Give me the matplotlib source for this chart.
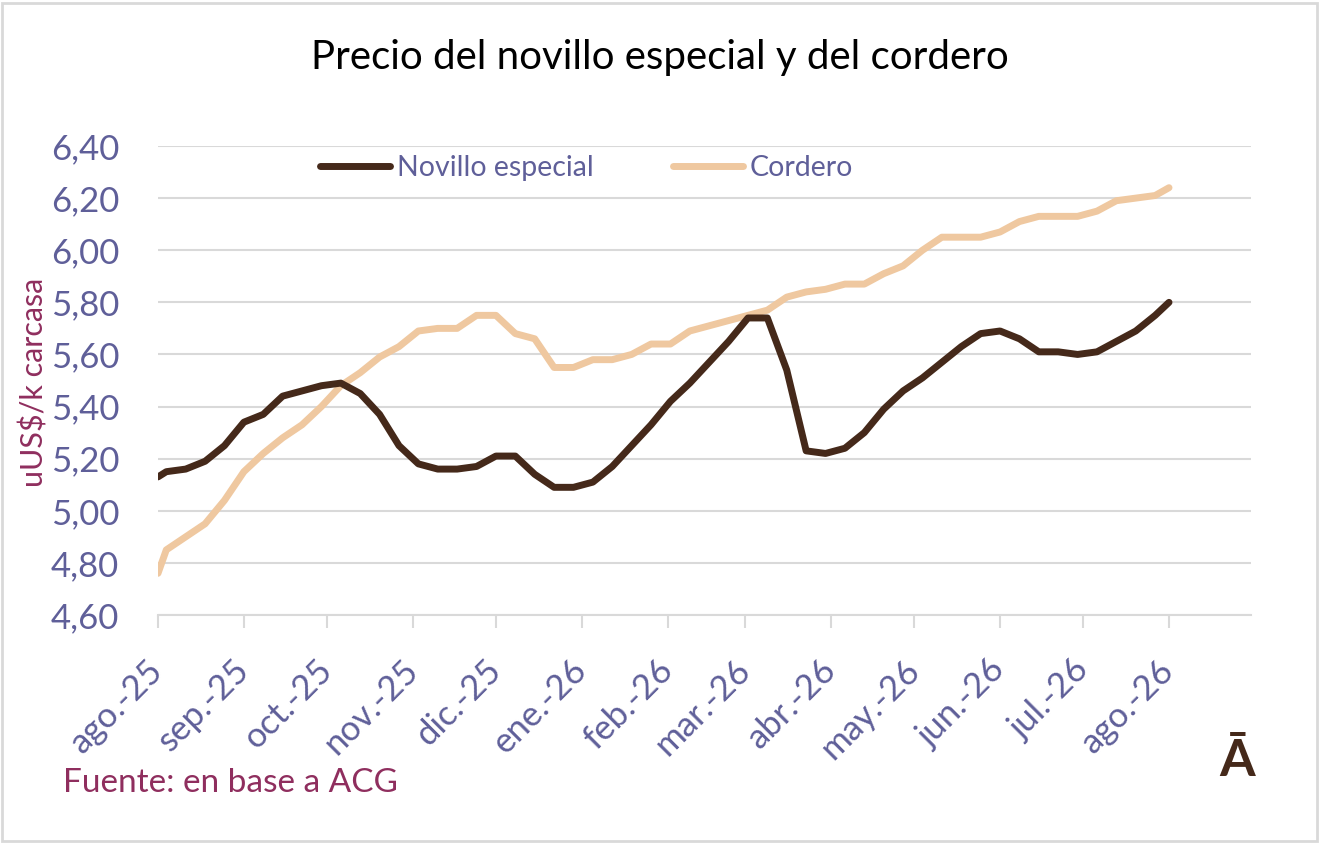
import matplotlib
matplotlib.use('Agg')
import matplotlib.pyplot as plt
import matplotlib.dates as mdates
import pandas as pd
from matplotlib.patches import Rectangle
from matplotlib.lines import Line2D

plt.rcParams['font.family'] = ['Lato', 'DejaVu Sans']

# ---------------- data ----------------
dates = ([pd.Timestamp('2025-08-01')]
         + list(pd.date_range('2025-08-04', periods=52, freq='7D'))
         + [pd.Timestamp('2026-08-01')])

novillo = [5.13, 5.15, 5.16, 5.19, 5.25, 5.34, 5.37, 5.44, 5.46, 5.48,
           5.49, 5.45, 5.37, 5.25, 5.18, 5.16, 5.16, 5.17, 5.21, 5.21,
           5.14, 5.09, 5.09, 5.11, 5.17, 5.25, 5.33, 5.42, 5.49, 5.57,
           5.65, 5.74, 5.74, 5.54, 5.23, 5.22, 5.24, 5.30, 5.39, 5.46,
           5.51, 5.57, 5.63, 5.68, 5.69, 5.66, 5.61, 5.61, 5.60, 5.61,
           5.65, 5.69, 5.75, 5.80]

cordero = [4.76, 4.85, 4.90, 4.95, 5.04, 5.15, 5.22, 5.28, 5.33, 5.40,
           5.48, 5.53, 5.59, 5.63, 5.69, 5.70, 5.70, 5.75, 5.75, 5.68,
           5.66, 5.55, 5.55, 5.58, 5.58, 5.60, 5.64, 5.64, 5.69, 5.71,
           5.73, 5.75, 5.77, 5.82, 5.84, 5.85, 5.87, 5.87, 5.91, 5.94,
           6.00, 6.05, 6.05, 6.05, 6.07, 6.11, 6.13, 6.13, 6.13, 6.15,
           6.19, 6.20, 6.21, 6.24]

month_ticks = pd.date_range('2025-08-01', '2026-08-01', freq='MS')
month_labels = ['ago.-25', 'sep.-25', 'oct.-25', 'nov.-25', 'dic.-25',
                'ene.-26', 'feb.-26', 'mar.-26', 'abr.-26', 'may.-26',
                'jun.-26', 'jul.-26', 'ago.-26']
y_ticks = [4.60, 4.80, 5.00, 5.20, 5.40, 5.60, 5.80, 6.00, 6.20, 6.40]
y_labels = ['4,60', '4,80', '5,00', '5,20', '5,40', '5,60', '5,80', '6,00', '6,20', '6,40']

series_names = ['Novillo especial', 'Cordero']

# ---------------- style ----------------
BROWN = '#45291A'
SAND = '#EFC8A0'
TICK = '#5F5F99'
MAROON = '#8F2E5E'
GRID = '#D9D9D9'

W, H = 1320, 843
fig = plt.figure(figsize=(W / 100, H / 100), dpi=100)
fig.patch.set_facecolor('white')

ax = fig.add_axes([158 / W, 1 - 615 / H, (1251 - 158) / W, (615 - 146) / H])

ax.plot(dates, novillo, color=BROWN, lw=5, solid_joinstyle='round',
        solid_capstyle='round', zorder=3)
ax.plot(dates, cordero, color=SAND, lw=5, solid_joinstyle='round',
        solid_capstyle='round', zorder=2)

ax.set_ylim(4.60, 6.40)
ax.set_yticks(y_ticks)
ax.set_yticklabels(y_labels)

x0 = mdates.date2num(pd.Timestamp('2025-08-01'))
ax.set_xlim(x0, x0 + 394.6)
ax.set_xticks(month_ticks)
ax.set_xticklabels(month_labels, rotation=45, ha='right', va='center',
                   rotation_mode='anchor')

ax.yaxis.grid(True, color=GRID, lw=1.5)
ax.set_axisbelow(True)
for s in ['top', 'left', 'right']:
    ax.spines[s].set_visible(False)
ax.spines['bottom'].set_color(GRID)
ax.spines['bottom'].set_linewidth(1.5)

ax.tick_params(axis='x', length=9, width=1.5, color=GRID, labelcolor=TICK,
               labelsize=25, pad=27)
ax.tick_params(axis='y', length=0, labelcolor=TICK, labelsize=25, pad=28)

# legends (two separate entries positioned like the original)
h1 = Line2D([], [], color=BROWN, lw=5, solid_capstyle='round')
h2 = Line2D([], [], color=SAND, lw=5, solid_capstyle='round')
leg1 = fig.legend([h1], [series_names[0]], loc='center left',
                  bbox_to_anchor=(320 / W, 1 - 168 / H), frameon=False,
                  borderpad=0, borderaxespad=0, handlelength=2.45,
                  handletextpad=0.25, fontsize=20.5, labelcolor=TICK)
leg2 = fig.legend([h2], [series_names[1]], loc='center left',
                  bbox_to_anchor=(673 / W, 1 - 168 / H), frameon=False,
                  borderpad=0, borderaxespad=0, handlelength=2.45,
                  handletextpad=0.25, fontsize=20.5, labelcolor=TICK)

# texts
fig.text(0.5, 1 - 57 / H, 'Precio del novillo especial y del cordero',
         ha='center', va='center', fontsize=29, color='black')
fig.text(34 / W, 1 - 382 / H, 'uUS$/k carcasa', rotation=90,
         ha='center', va='center', fontsize=22, color=MAROON)
fig.text(63 / W, 1 - 783 / H, 'Fuente: en base a ACG', ha='left',
         va='center', fontsize=24, color=MAROON)
fig.text(1237 / W, 1 - 762 / H, 'Ā', ha='center', va='center',
         fontsize=37, fontweight='bold', color=BROWN)

# outer border
fig.patches.append(Rectangle((2 / W, 2 / H), 1 - 5 / W, 1 - 5 / H,
                             transform=fig.transFigure, fill=False,
                             edgecolor=GRID, lw=2))

fig.savefig('out.png', dpi=100)
